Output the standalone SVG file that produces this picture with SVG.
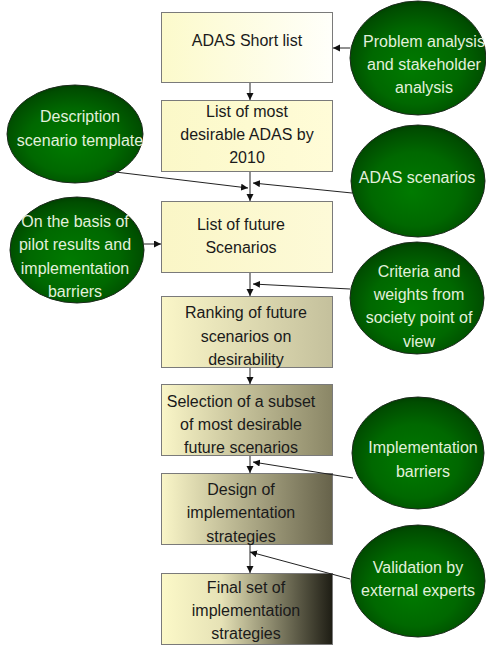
<svg xmlns="http://www.w3.org/2000/svg" width="486" height="646" viewBox="0 0 486 646">
  <style>
    .box { stroke: #7a7a7a; stroke-width: 1; }
    .btxt { font-family: "Liberation Sans", Arial, sans-serif; font-size: 16px; fill: #1a1a1a; text-anchor: middle; }
    .ell { fill: url(#green); stroke: #1c2a1c; stroke-width: 1; }
    .etxt { font-family: "Liberation Sans", Arial, sans-serif; font-size: 16px; fill: #e2f0dc; text-anchor: middle; }
    .link { stroke: #222; stroke-width: 1; fill: none; marker-end: url(#arrow); }
  </style>
  <defs>
    <marker id="arrow" markerUnits="userSpaceOnUse" markerWidth="8" markerHeight="8" refX="7" refY="3.5" orient="auto">
      <path d="M0,0 L7,3.5 L0,7 z" fill="#111"/>
    </marker>
    <radialGradient id="green" cx="0.5" cy="0.55" r="0.6" fx="0.45" fy="0.6">
      <stop offset="0" stop-color="#007a00"/>
      <stop offset="0.55" stop-color="#006800"/>
      <stop offset="0.85" stop-color="#004d00"/>
      <stop offset="1" stop-color="#003300"/>
    </radialGradient>
    <linearGradient id="g1" x1="0" y1="0" x2="1" y2="0">
      <stop offset="0" stop-color="#fcfacb"/>
      <stop offset="1" stop-color="#fffffa"/>
    </linearGradient>
    <linearGradient id="g2" x1="0" y1="0" x2="1" y2="0">
      <stop offset="0" stop-color="#fbf8c8"/>
      <stop offset="1" stop-color="#fffcd8"/>
    </linearGradient>
    <linearGradient id="g3" x1="0" y1="0" x2="1" y2="0">
      <stop offset="0" stop-color="#faf6c6"/>
      <stop offset="1" stop-color="#fdfad8"/>
    </linearGradient>
    <linearGradient id="g4" x1="0" y1="0" x2="1" y2="0">
      <stop offset="0" stop-color="#faf6c8"/>
      <stop offset="1" stop-color="#c4c09c"/>
    </linearGradient>
    <linearGradient id="g5" x1="0" y1="0" x2="1" y2="0">
      <stop offset="0" stop-color="#faf6c8"/>
      <stop offset="1" stop-color="#8a8666"/>
    </linearGradient>
    <linearGradient id="g6" x1="0" y1="0" x2="1" y2="0">
      <stop offset="0" stop-color="#faf6c8"/>
      <stop offset="1" stop-color="#66624a"/>
    </linearGradient>
    <linearGradient id="g7" x1="0" y1="0" x2="1" y2="0">
      <stop offset="0" stop-color="#fcf9c8"/>
      <stop offset="0.35" stop-color="#e6e2b6"/>
      <stop offset="1" stop-color="#1e1d14"/>
    </linearGradient>
  </defs>

  <!-- process boxes -->
  <g id="box-shortlist">
    <rect class="box" x="161.5" y="12.5" width="171" height="70" fill="url(#g1)"/>
    <text class="btxt" x="247" y="46">ADAS Short list</text>
  </g>
  <g id="box-desirable">
    <rect class="box" x="161.5" y="100.5" width="171" height="71" fill="url(#g2)"/>
    <text class="btxt" x="247" y="117">List of most</text>
    <text class="btxt" x="247" y="140">desirable ADAS by</text>
    <text class="btxt" x="247" y="163">2010</text>
  </g>
  <g id="box-future">
    <rect class="box" x="161.5" y="201.5" width="171" height="71" fill="url(#g3)"/>
    <text class="btxt" x="241" y="230">List of future</text>
    <text class="btxt" x="241" y="253">Scenarios</text>
  </g>
  <g id="box-ranking">
    <rect class="box" x="161.5" y="296.5" width="171" height="71" fill="url(#g4)"/>
    <text class="btxt" x="246" y="318">Ranking of future</text>
    <text class="btxt" x="246" y="342">scenarios on</text>
    <text class="btxt" x="246" y="365">desirability</text>
  </g>
  <g id="box-selection">
    <rect class="box" x="161.5" y="384.5" width="171" height="71" fill="url(#g5)"/>
    <text class="btxt" x="241" y="407">Selection of a subset</text>
    <text class="btxt" x="241" y="430">of most desirable</text>
    <text class="btxt" x="241" y="453">future scenarios</text>
  </g>
  <g id="box-design">
    <rect class="box" x="161.5" y="473.5" width="171" height="71" fill="url(#g6)"/>
    <text class="btxt" x="241" y="495">Design of</text>
    <text class="btxt" x="241" y="518">implementation</text>
    <text class="btxt" x="241" y="542">strategies</text>
  </g>
  <g id="box-final">
    <rect class="box" x="161.5" y="573.5" width="171" height="71" fill="url(#g7)"/>
    <text class="btxt" x="246" y="593">Final set of</text>
    <text class="btxt" x="246" y="616">implementation</text>
    <text class="btxt" x="246" y="639">strategies</text>
  </g>

  <!-- input ellipses -->
  <g id="in-problem">
    <ellipse class="ell" cx="418" cy="58" rx="68" ry="57"/>
    <text class="etxt" x="424" y="47">Problem analysis</text>
    <text class="etxt" x="424" y="70">and stakeholder</text>
    <text class="etxt" x="424" y="93">analysis</text>
  </g>
  <g id="in-scenarios">
    <ellipse class="ell" cx="418" cy="181" rx="67" ry="56"/>
    <text class="etxt" x="417" y="183">ADAS scenarios</text>
  </g>
  <g id="in-template">
    <ellipse class="ell" cx="75" cy="134" rx="68" ry="49"/>
    <text class="etxt" x="80" y="122">Description</text>
    <text class="etxt" x="80" y="146">scenario template</text>
  </g>
  <g id="in-pilot">
    <ellipse class="ell" cx="77" cy="250" rx="67" ry="53"/>
    <text class="etxt" x="75" y="227">On the basis of</text>
    <text class="etxt" x="75" y="250">pilot results and</text>
    <text class="etxt" x="75" y="274">implementation</text>
    <text class="etxt" x="75" y="297">barriers</text>
  </g>
  <g id="in-criteria">
    <ellipse class="ell" cx="417" cy="298" rx="67" ry="56"/>
    <text class="etxt" x="419" y="277">Criteria and</text>
    <text class="etxt" x="419" y="300">weights from</text>
    <text class="etxt" x="419" y="323">society point of</text>
    <text class="etxt" x="419" y="347">view</text>
  </g>
  <g id="in-barriers">
    <ellipse class="ell" cx="418" cy="453" rx="66" ry="56"/>
    <text class="etxt" x="423" y="453">Implementation</text>
    <text class="etxt" x="423" y="477">barriers</text>
  </g>
  <g id="in-validation">
    <ellipse class="ell" cx="418" cy="581" rx="67" ry="56"/>
    <text class="etxt" x="418" y="573">Validation by</text>
    <text class="etxt" x="418" y="596">external experts</text>
  </g>

  <!-- connectors -->
  <g id="connectors">
    <line class="link" x1="350" y1="48" x2="333" y2="48"/>
    <line class="link" x1="250" y1="83" x2="250" y2="100"/>
    <line class="link" x1="250" y1="172" x2="250" y2="201"/>
    <line class="link" x1="352" y1="193" x2="253" y2="183"/>
    <line class="link" x1="107" y1="171" x2="248" y2="188"/>
    <line class="link" x1="144" y1="244" x2="161" y2="244"/>
    <line class="link" x1="250" y1="273" x2="250" y2="296"/>
    <line class="link" x1="350" y1="289" x2="253" y2="284"/>
    <line class="link" x1="250" y1="368" x2="250" y2="384"/>
    <line class="link" x1="250" y1="456" x2="250" y2="473"/>
    <line class="link" x1="353" y1="478" x2="253" y2="462"/>
    <line class="link" x1="250" y1="545" x2="250" y2="573"/>
    <line class="link" x1="350" y1="579" x2="250" y2="552"/>
  </g>
</svg>
